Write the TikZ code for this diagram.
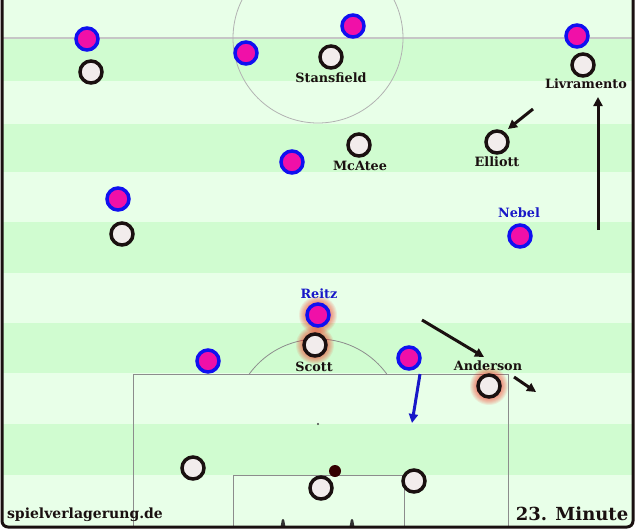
\documentclass[tikz,border=0pt]{standalone}
\usepackage{fontspec}
\setmainfont{DejaVu Serif}
\usetikzlibrary{arrows.meta}
\definecolor{rasenhell}{HTML}{E8FFE8}
\definecolor{rasendunkel}{HTML}{D0FCD0}
\definecolor{heimrand}{HTML}{1010F0}
\definecolor{heimfill}{HTML}{F010A8}
\definecolor{gastrand}{HTML}{1A1010}
\definecolor{gastfill}{HTML}{F2ECEC}
\definecolor{linie}{HTML}{8C8C8C}
\definecolor{namenblau}{HTML}{1818C8}
\newcommand{\gluehen}[1]{\foreach \rad in {13,14,...,19} {\fill[red!85!orange, opacity=0.08] (#1) circle (\rad pt);}}
\newcommand{\pfosten}[1]{\fill[gray!40!black, rounded corners = 1pt] (#1) ++(-2.5,0) -- ++(1.5,-8) -- ++(2,0) -- ++(1.5,8) -- cycle;}
\tikzset{
	heim/.style = {circle, draw = heimrand, fill = heimfill, line width = 3.5pt, minimum size = 22pt, inner sep = 0pt},
	gast/.style = {circle, draw = gastrand, fill = gastfill, line width = 3.5pt, minimum size = 22pt, inner sep = 0pt},
	spielername/.style = {font = \fontsize{12.8}{14}\selectfont\bfseries, text = gastrand, inner sep = 0pt},
	heimname/.style = {spielername, text = namenblau},
	lauf/.style = {-{Triangle[length = 9pt, width = 9pt]}, line width = 3pt, gastrand},
	heimlauf/.style = {lauf, namenblau}
}

\begin{document}
\begin{tikzpicture}[x = 1pt, y = -1pt]
	\useasboundingbox (0,0) rectangle (636,531);

	% Rasen
	\fill[rasenhell] (2,0) rectangle (633,527);
	\foreach \oben/\unten in {38/81, 124/172, 222/273, 323/373, 424/475}
		\fill[rasendunkel] (2,\oben) rectangle (633,\unten);

	% Linien
	\draw[gray!45, line width = 1.5pt] (2,38) -- (633,38);
	\draw[gray!60, line width = 0.8pt] (318,38) circle (85pt);
	\draw[linie, line width = 1pt] (133,527) |- (508,374) -- (508,527);
	\draw[linie, line width = 1pt] (233,527) |- (404,475) -- (404,527);
	\fill[linie!50!black] (318,424) circle (1.2pt);
	\begin{scope}
		\clip (0,0) rectangle (636,374);
		\draw[linie, line width = 0.8pt] (318,424) circle (85pt);
	\end{scope}
	\pfosten{283,527}
	\pfosten{352,527}

	% Rahmen
	\draw[gastrand, line width = 3pt, rounded corners = 6pt] (2,-5) -- (2,527) -- (633,527) -- (633,-5);

	% Hervorhebung
	\gluehen{318,315}
	\gluehen{315,345}
	\gluehen{489,386}

	% Spieler
	\node[heim] (h1) at (87,39) {};
	\node[heim] (h2) at (246,53) {};
	\node[heim] (h3) at (353,26) {};
	\node[heim] (h4) at (577,36) {};
	\node[heim] (h5) at (292,162) {};
	\node[heim] (h6) at (118,199) {};
	\node[heim] (nebel) at (520,236) {};
	\node[heim] (reitz) at (318,315) {};
	\node[heim] (h9) at (208,361) {};
	\node[heim] (h10) at (409,358) {};

	\node[gast] (g1) at (91,72) {};
	\node[gast] (stansfield) at (331,57) {};
	\node[gast] (livramento) at (583,65) {};
	\node[gast] (mcatee) at (359,145) {};
	\node[gast] (elliott) at (497,142) {};
	\node[gast] (g6) at (122,234) {};
	\node[gast] (scott) at (315,345) {};
	\node[gast] (anderson) at (489,386) {};
	\node[gast] (g9) at (193,468) {};
	\node[gast] (g10) at (321,488) {};
	\node[gast] (g11) at (414,481) {};

	\fill[red!20!black] (335,471) circle (6pt);

	% Namen
	\node[spielername] (stansfieldname) at (331,78) {Stansfield};
	\node[spielername] (livramentoname) at (586,84) {Livramento};
	\node[spielername] (mcateename) at (360,166) {McAtee};
	\node[spielername] (elliottname) at (497,162) {Elliott};
	\node[heimname] (nebelname) at (519,213) {Nebel};
	\node[heimname] (reitzname) at (319,294) {Reitz};
	\node[spielername] (scottname) at (314,367) {Scott};
	\node[spielername] (andersonname) at (488,366) {Anderson};

	% Laufwege
	\coordinate (e1) at (533,109);
	\coordinate (e2) at (508,129);
	\coordinate (l1) at (598,230);
	\coordinate (l2) at (598,97);
	\coordinate (a1) at (422,320);
	\coordinate (a2) at (484,357);
	\coordinate (a3) at (514,377);
	\coordinate (a4) at (536,392);
	\coordinate (b1) at (420,374);
	\coordinate (b2) at (412,423);
	\draw[lauf] (e1) -- (e2);
	\draw[lauf] (l1) -- (l2);
	\draw[lauf] (a1) -- (a2);
	\draw[lauf] (a3) -- (a4);
	\draw[heimlauf] (b1) -- (b2);

	% Beschriftung
	\node[font = \fontsize{14}{16}\selectfont\bfseries, text = gastrand, inner sep = 0pt] (quelle) at (85,515) {spielverlagerung.de};
	\node[font = \fontsize{18}{20}\selectfont\bfseries, text = gastrand, inner sep = 0pt] (minute) at (572,514) {23. Minute};
\end{tikzpicture}
\end{document}
